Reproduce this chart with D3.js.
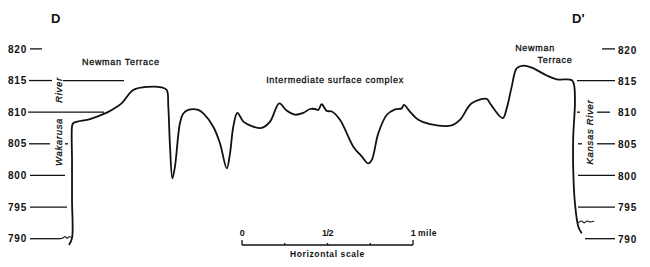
<!DOCTYPE html>
<html>
<head>
<meta charset="utf-8">
<script src="https://cdn.jsdelivr.net/npm/d3@7"></script>
<style>
  body { margin: 0; background: #fff; }
  svg { display: block; }
  text { font-family: "Liberation Sans", Arial, sans-serif; fill: #111; }
</style>
</head>
<body>
<div id="chart"></div>
<script>
// Elevation ticks (feet)
const elevTicks = [790, 795, 800, 805, 810, 815, 820];

// Profile D-D': [distance from D (miles), elevation (feet)]
const profile = [
  [-0.012, 789.0], [0.006, 790.1], [0.006, 796.1], [0.006, 802.4], [0.006, 807.7],
  [0.013, 808.25], [0.111, 808.9], [0.199, 809.8], [0.238, 810.35], [0.296, 811.4],
  [0.364, 813.5], [0.452, 814.0], [0.530, 813.9], [0.560, 813.5], [0.569, 810.9],
  [0.579, 804.55], [0.593, 799.55], [0.608, 801.4], [0.637, 808.25], [0.657, 809.8],
  [0.686, 810.35], [0.744, 810.35], [0.774, 809.8], [0.832, 807.7], [0.871, 805.1],
  [0.911, 801.1], [0.930, 803.5], [0.949, 807.7], [0.973, 809.9], [1.008, 808.5],
  [1.057, 807.8], [1.115, 807.5], [1.164, 808.5], [1.218, 811.4], [1.261, 810.25],
  [1.310, 809.6], [1.359, 809.9], [1.398, 810.5], [1.427, 810.5], [1.446, 810.35],
  [1.466, 811.25], [1.495, 810.2], [1.525, 810.1], [1.573, 808.8], [1.651, 804.55],
  [1.700, 803.0], [1.739, 801.9], [1.759, 802.45], [1.797, 806.65], [1.846, 809.55],
  [1.895, 810.45], [1.934, 810.6], [1.947, 811.15], [1.982, 810.1], [2.031, 808.8],
  [2.099, 808.1], [2.226, 807.9], [2.275, 808.8], [2.343, 811.4], [2.431, 812.1],
  [2.450, 811.4], [2.525, 809.05], [2.548, 810.6], [2.577, 814.0], [2.607, 816.95],
  [2.645, 817.35], [2.694, 817.05], [2.782, 815.8], [2.841, 815.2], [2.929, 815.05],
  [2.942, 814.3], [2.947, 811.4], [2.937, 806.1], [2.937, 800.9], [2.947, 795.6],
  [2.967, 791.9], [2.987, 790.85]
];

// River water surface squiggles
const waterLeft = [[-0.064, 790.0], [-0.047, 790.1], [-0.035, 790.35], [-0.023, 790.05], [-0.012, 790.3], [0.004, 790.2]];
const waterRight = [[2.967, 792.5], [2.984, 792.8], [3.001, 792.5], [3.019, 792.8], [3.036, 792.65], [3.06, 792.8]];

// Horizontal scale (miles)
const scaleTicks = [0, 0.25, 0.5, 0.75, 1];
const scaleLabels = ["0", "", "1/2", "", "1"];
const scaleStart = 1.0;

const width = 650, height = 267;

const svg = d3.select("#chart")
  .append("svg")
  .attr("width", width)
  .attr("height", height);

svg.append("rect").attr("width", width).attr("height", height).attr("fill", "#fff");

const x = d3.scaleLinear().domain([0, 3]).range([71, 584]);
const y = d3.scaleLinear().domain([790, 820]).range([238.7, 48.9]);

// Tick line segments (left and right), in pixels
const leftSegs = {
  820: [[30, 42]], 815: [[29, 52], [63, 124]], 810: [[28, 104]],
  805: [[29, 50], [65, 68]], 800: [[30, 65]], 795: [[30, 67]], 790: [[30, 60]]
};
const rightSegs = {
  820: [[602, 615]], 815: [[577, 615]], 810: [[577, 580], [597, 610]],
  805: [[578, 582], [597, 615]], 800: [[578, 615]], 795: [[578, 615]], 790: [[585, 615]]
};

const ticks = svg.append("g").attr("stroke", "#111").attr("stroke-width", 1.3);
elevTicks.forEach(t => {
  leftSegs[t].concat(rightSegs[t]).forEach(s => {
    ticks.append("line")
      .attr("x1", s[0]).attr("x2", s[1])
      .attr("y1", y(t)).attr("y2", y(t));
  });
});

svg.append("g").selectAll("text")
  .data(elevTicks)
  .join("text")
  .attr("x", 27).attr("y", d => y(d))
  .attr("dy", "0.36em")
  .attr("text-anchor", "end")
  .attr("font-size", 10).attr("font-weight", "bold")
  .attr("letter-spacing", 0.8)
  .text(d => d);

svg.append("g").selectAll("text")
  .data(elevTicks)
  .join("text")
  .attr("x", 618).attr("y", d => y(d) + (d === 820 ? 1.5 : 0.6))
  .attr("dy", "0.36em")
  .attr("font-size", 10).attr("font-weight", "bold")
  .attr("letter-spacing", 0.8)
  .text(d => d);

// Profile
const line = d3.line()
  .x(d => x(d[0]))
  .y(d => y(d[1]))
  .curve(d3.curveCatmullRom.alpha(0.5));

svg.append("path")
  .datum(profile)
  .attr("fill", "none")
  .attr("stroke", "#111")
  .attr("stroke-width", 1.8)
  .attr("stroke-linejoin", "round")
  .attr("d", line);

[waterLeft, waterRight].forEach(w => {
  svg.append("path")
    .datum(w)
    .attr("fill", "none")
    .attr("stroke", "#111")
    .attr("stroke-width", 1.1)
    .attr("d", line);
});

// Titles
svg.append("text").attr("x", 51).attr("y", 23)
  .attr("font-size", 13).attr("font-weight", "bold").text("D");
svg.append("text").attr("x", 572).attr("y", 23)
  .attr("font-size", 13).attr("font-weight", "bold").text("D'");

const lbl = (tx, ty, s, anchor) => svg.append("text")
  .attr("x", tx).attr("y", ty)
  .attr("text-anchor", anchor || "start")
  .attr("font-size", 9).attr("letter-spacing", 0.7)
  .attr("stroke", "#111").attr("stroke-width", 0.3)
  .text(s);

lbl(82, 65, "Newman Terrace");
lbl(335, 83, "Intermediate surface complex", "middle");
lbl(535, 51, "Newman", "middle");
lbl(555, 63, "Terrace", "middle");

// River names (vertical)
const vlbl = (cx, cy, s) => svg.append("text")
  .attr("transform", `translate(${cx},${cy}) rotate(-90)`)
  .attr("text-anchor", "middle")
  .attr("font-size", 9.5).attr("font-style", "italic")
  .attr("letter-spacing", 0.7)
  .attr("stroke", "#111").attr("stroke-width", 0.3)
  .text(s);

vlbl(61.5, 142, "Wakarusa");
vlbl(61.5, 90, "River");
vlbl(593, 132, "Kansas  River");

// Horizontal scale bar
const barY = 245;
const sb = svg.append("g").attr("stroke", "#111");
sb.append("line")
  .attr("x1", x(scaleStart)).attr("x2", x(scaleStart + 1))
  .attr("y1", barY).attr("y2", barY)
  .attr("stroke-width", 1.3);
sb.selectAll(".tk")
  .data(scaleTicks)
  .join("line")
  .attr("x1", d => x(scaleStart + d)).attr("x2", d => x(scaleStart + d))
  .attr("y1", barY)
  .attr("y2", (d, i) => (i === 0 || i === scaleTicks.length - 1) ? barY - 5 : barY - 2)
  .attr("stroke-width", 1.3);

svg.append("g").selectAll("text")
  .data(scaleTicks)
  .join("text")
  .attr("x", d => x(scaleStart + d))
  .attr("y", 236)
  .attr("text-anchor", "middle")
  .attr("font-size", 9).attr("font-weight", "bold")
  .attr("letter-spacing", -0.5)
  .text((d, i) => scaleLabels[i]);

svg.append("text").attr("x", x(scaleStart + 1) + 5).attr("y", 236)
  .attr("font-size", 8.5).attr("font-weight", "bold").attr("letter-spacing", 0.5)
  .text("mile");

svg.append("text").attr("x", x(scaleStart + 0.5)).attr("y", 257)
  .attr("text-anchor", "middle")
  .attr("font-size", 8.5).attr("font-weight", "bold").attr("letter-spacing", 0.6)
  .text("Horizontal scale");
</script>
</body>
</html>
